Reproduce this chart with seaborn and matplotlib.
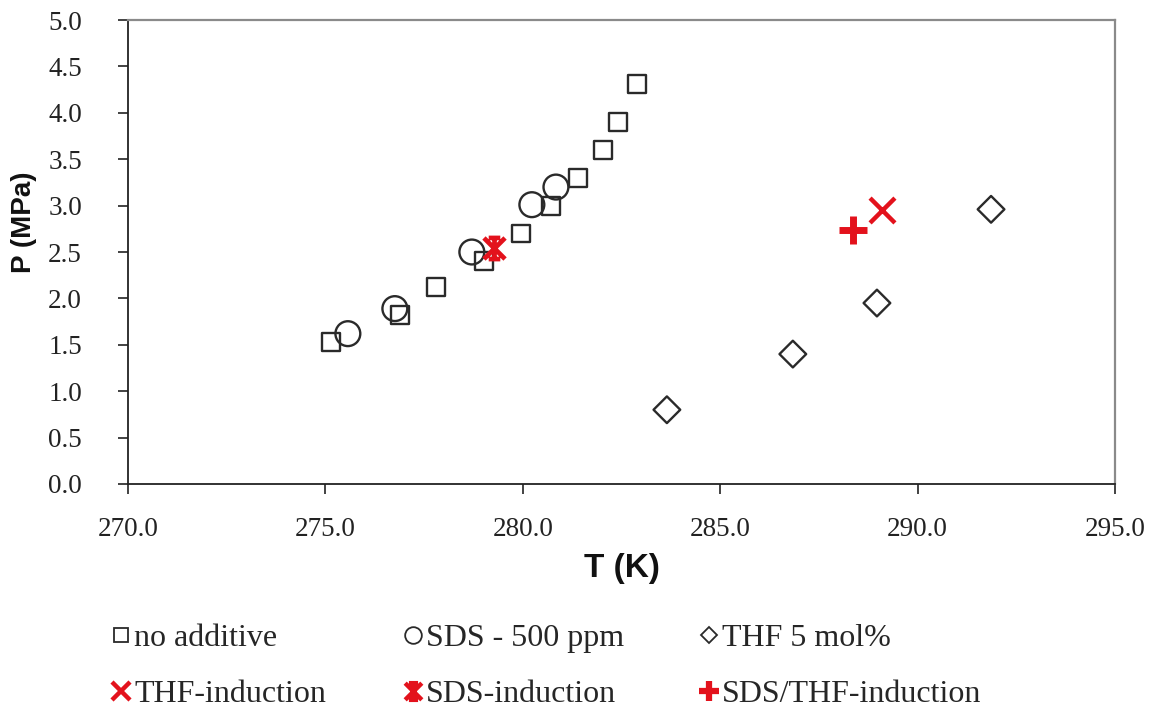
import matplotlib
matplotlib.use("Agg")
import matplotlib.pyplot as plt
from matplotlib.path import Path
from matplotlib.lines import Line2D
import seaborn as sns
import pandas as pd

# ---- data ----
T_none = [275.14, 276.89, 277.80, 279.02, 279.95, 280.71, 281.40, 282.03, 282.41, 282.89]
P_none = [1.53, 1.82, 2.12, 2.40, 2.70, 3.00, 3.30, 3.60, 3.90, 4.31]

T_sds = [275.57, 276.76, 278.71, 280.23, 280.84]
P_sds = [1.62, 1.89, 2.50, 3.01, 3.20]

T_thf = [283.65, 286.84, 288.97, 291.86]
P_thf = [0.80, 1.40, 1.95, 2.96]

T_thf_ind = [289.10]
P_thf_ind = [2.95]

T_sds_ind = [279.27]
P_sds_ind = [2.54]

T_sdsthf_ind = [288.36]
P_sdsthf_ind = [2.74]

labels = ["no additive", "SDS - 500 ppm", "THF 5 mol%",
          "THF-induction", "SDS-induction", "SDS/THF-induction"]

x_ticks = [270.0, 275.0, 280.0, 285.0, 290.0, 295.0]
y_ticks = [0.0, 0.5, 1.0, 1.5, 2.0, 2.5, 3.0, 3.5, 4.0, 4.5, 5.0]

# ---- style ----
sns.set_theme(style="white")
plt.rcParams["font.family"] = ["Liberation Serif", "DejaVu Serif"]

fig = plt.figure(figsize=(11.61, 7.13), dpi=100)
ax = fig.add_axes([0.1102, 0.3212, 0.8502, 0.6507])

# custom "star" marker: X with bars top and bottom
star_verts = [(-1, -1), (1, 1), (-1, 1), (1, -1),
              (-0.55, 1), (0.55, 1), (-0.55, -1), (0.55, -1), (0, -1), (0, 1)]
star_codes = [Path.MOVETO, Path.LINETO, Path.MOVETO, Path.LINETO,
              Path.MOVETO, Path.LINETO, Path.MOVETO, Path.LINETO,
              Path.MOVETO, Path.LINETO]
star_marker = Path(star_verts, star_codes)

red = "#e3121c"
edge = "#2a2a2a"

df_none = pd.DataFrame({"T": T_none, "P": P_none})
df_sds = pd.DataFrame({"T": T_sds, "P": P_sds})
df_thf = pd.DataFrame({"T": T_thf, "P": P_thf})
df_thf_ind = pd.DataFrame({"T": T_thf_ind, "P": P_thf_ind})
df_sds_ind = pd.DataFrame({"T": T_sds_ind, "P": P_sds_ind})
df_sdsthf_ind = pd.DataFrame({"T": T_sdsthf_ind, "P": P_sdsthf_ind})

open_kw = dict(color=edge, facecolor="none", edgecolor=edge, linewidth=1.7, zorder=3)
sns.scatterplot(data=df_none, x="T", y="P", ax=ax, marker="s", s=165, **open_kw)
sns.scatterplot(data=df_sds, x="T", y="P", ax=ax, marker="o", s=320, **open_kw)
sns.scatterplot(data=df_thf, x="T", y="P", ax=ax, marker="D", s=185, **open_kw)
sns.scatterplot(data=df_thf_ind, x="T", y="P", ax=ax, marker="x", s=320,
                color=red, edgecolor=red, linewidth=3.2, zorder=4)
sns.scatterplot(data=df_sds_ind, x="T", y="P", ax=ax, marker=star_marker, s=230,
                color=red, edgecolor=red, linewidth=3.4, zorder=4)
sns.scatterplot(data=df_sdsthf_ind, x="T", y="P", ax=ax, marker="+", s=380,
                color=red, edgecolor=red, linewidth=5, zorder=4)

ax.set_xlim(270, 295)
ax.set_ylim(0, 5)
ax.set_xticks(x_ticks)
ax.set_yticks(y_ticks)
ax.set_xticklabels([f"{v:.1f}" for v in x_ticks])
ax.set_yticklabels([f"{v:.1f}" for v in y_ticks])
ax.tick_params(axis="both", which="major", labelsize=19.5, labelcolor="#222",
               color="#222", direction="out", length=7, width=1.2,
               left=True, bottom=True)
ax.tick_params(axis="x", pad=17)
ax.tick_params(axis="y", pad=26)

for side in ["left", "bottom"]:
    ax.spines[side].set_color("#222")
    ax.spines[side].set_linewidth(1.3)
for side in ["top", "right"]:
    ax.spines[side].set_visible(True)
    ax.spines[side].set_color("#8a8a8a")
    ax.spines[side].set_linewidth(1.6)

ax.set_xlabel("T (K)", fontsize=24, fontweight="bold",
              family=["Liberation Sans", "DejaVu Sans"], color="#111")
ax.set_ylabel("P (MPa)", fontsize=20, fontweight="bold",
              family=["Liberation Sans", "DejaVu Sans"], color="#111")
ax.xaxis.set_label_coords(0.5, -0.148)
ax.yaxis.set_label_coords(-0.092, 0.565)

# ---- legend: three columns ----
h_none = Line2D([], [], ls="none", marker="s", ms=10, mfc="none", mec=edge, mew=1.3)
h_sds = Line2D([], [], ls="none", marker="o", ms=12, mfc="none", mec=edge, mew=1.3)
h_thf = Line2D([], [], ls="none", marker="D", ms=8.5, mfc="none", mec=edge, mew=1.3)
h_thf_ind = Line2D([], [], ls="none", marker="x", ms=13, mec=red, mew=3.2)
h_sds_ind = Line2D([], [], ls="none", marker=star_marker, ms=12, mec=red, mew=3.2)
h_sdsthf_ind = Line2D([], [], ls="none", marker="+", ms=14, mec=red, mew=4.5)

col_handles = [[h_none, h_thf_ind], [h_sds, h_sds_ind], [h_thf, h_sdsthf_ind]]
col_labels = [[labels[0], labels[3]], [labels[1], labels[4]], [labels[2], labels[5]]]
col_x = [0.0935, 0.3450, 0.6000]
for hs, ls, x0 in zip(col_handles, col_labels, col_x):
    fig.legend(hs, ls, loc="upper left", bbox_to_anchor=(x0, 0.125),
               frameon=False, fontsize=23, handlelength=0.75, handletextpad=0.05,
               labelspacing=0.84, borderaxespad=0, borderpad=0)

fig.savefig("out.png", dpi=100, facecolor="white")
